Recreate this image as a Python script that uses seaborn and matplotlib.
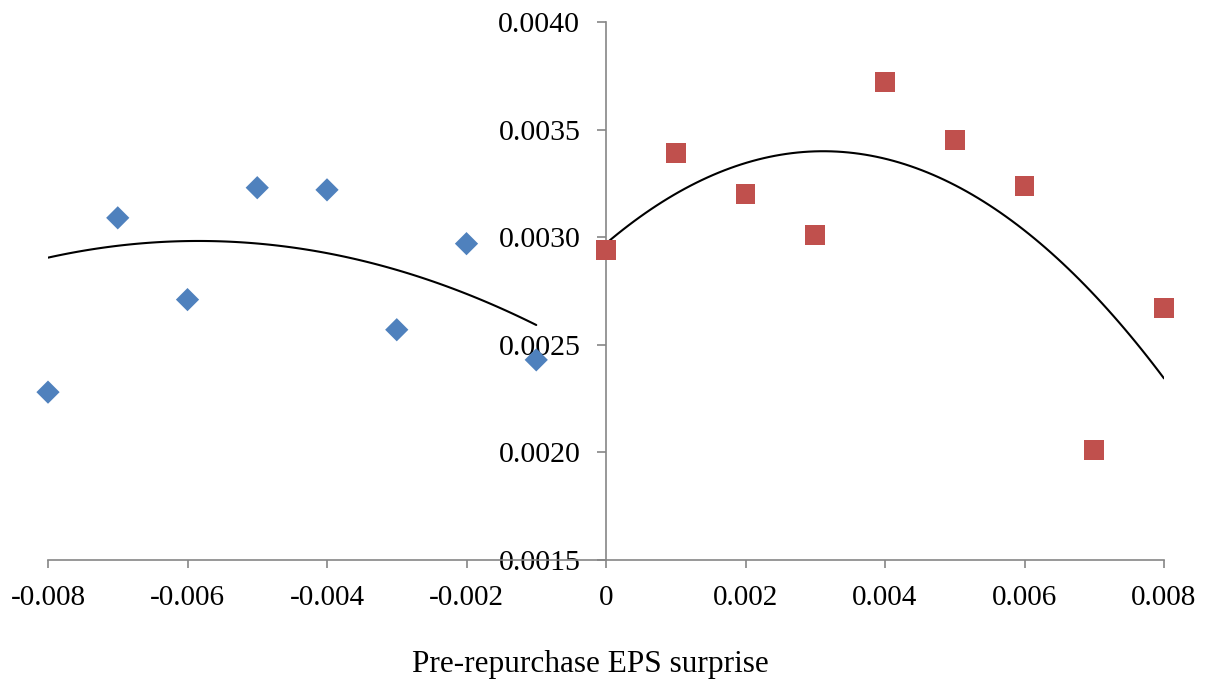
import matplotlib
matplotlib.use("Agg")
import matplotlib.pyplot as plt
import numpy as np
import pandas as pd
import seaborn as sns

# negative surprise bins (blue diamonds)
neg_x = [-0.008, -0.007, -0.006, -0.005, -0.004, -0.003, -0.002, -0.001]
neg_y = [0.00228, 0.00309, 0.00271, 0.00323, 0.00322, 0.00257, 0.00297, 0.00243]

# positive surprise bins (red squares)
pos_x = [0.0, 0.001, 0.002, 0.003, 0.004, 0.005, 0.006, 0.007, 0.008]
pos_y = [0.00294, 0.00339, 0.00320, 0.00301, 0.00372, 0.00345, 0.00324, 0.00201, 0.00267]

# the left trendline in the source is flatter than a fit of the shown bins,
# so use points
neg_trend_x = [-0.008, -0.006, -0.003, -0.001]
neg_trend_y = [0.002905, 0.002982, 0.002848, 0.002592]

x_ticks = [-0.008, -0.006, -0.004, -0.002, 0.0, 0.002, 0.004, 0.006, 0.008]
x_labels = ["-0.008", "-0.006", "-0.004", "-0.002", "0", "0.002", "0.004", "0.006", "0.008"]
y_ticks = [0.0015, 0.0020, 0.0025, 0.0030, 0.0035, 0.0040]
y_labels = ["0.0015", "0.0020", "0.0025", "0.0030", "0.0035", "0.0040"]

neg = pd.DataFrame({"x": neg_x, "y": neg_y})
pos = pd.DataFrame({"x": pos_x, "y": pos_y})
neg_trend = pd.DataFrame({"x": neg_trend_x, "y": neg_trend_y})

sns.set_theme(style="white")
plt.rcParams["font.family"] = ["Liberation Serif", "DejaVu Serif"]
plt.rcParams["text.color"] = "black"

fig = plt.figure(figsize=(12.09, 6.83), dpi=100)
ax = fig.add_axes([48 / 1209, 1 - 560 / 683, 1116 / 1209, 538 / 683])

# quadratic trend lines
line_kws = {"color": "black", "lw": 1.5}
sns.regplot(data=neg_trend, x="x", y="y", order=2, ci=None, scatter=False,
            truncate=True, line_kws=line_kws, ax=ax)
sns.regplot(data=pos, x="x", y="y", order=2, ci=None, scatter=False,
            truncate=True, line_kws=line_kws, ax=ax)

sns.scatterplot(data=neg, x="x", y="y", marker="D", s=140, color="#4F81BD",
                edgecolor="none", ax=ax, zorder=3, clip_on=False)
sns.scatterplot(data=pos, x="x", y="y", marker="s", s=207, color="#C0504D",
                edgecolor="none", ax=ax, zorder=3, clip_on=False)

ax.set_xlim(-0.008, 0.008)
ax.set_ylim(0.0015, 0.0040)
ax.set_xticks(x_ticks)
ax.set_xticklabels(x_labels)
ax.set_yticks(y_ticks)
ax.set_yticklabels(y_labels)

for side in ["top", "right"]:
    ax.spines[side].set_visible(False)
ax.spines["left"].set_position(("data", 0))
for side in ["left", "bottom"]:
    ax.spines[side].set_color("#868686")
    ax.spines[side].set_linewidth(1.2)

ax.tick_params(axis="y", direction="out", length=6.5, width=1.2, color="#868686",
               pad=12, labelsize=21.5, left=True, labelcolor="black")
ax.tick_params(axis="x", direction="out", length=6, width=1.2, color="#868686",
               pad=12, labelsize=21, bottom=True, labelcolor="black")

ax.set_ylabel("")
ax.set_xlabel("Pre-repurchase EPS surprise", fontsize=22.5, color="black")
ax.xaxis.set_label_coords((590 - 48) / 1116, -0.168)

fig.savefig("out.png", dpi=100, facecolor="white")
